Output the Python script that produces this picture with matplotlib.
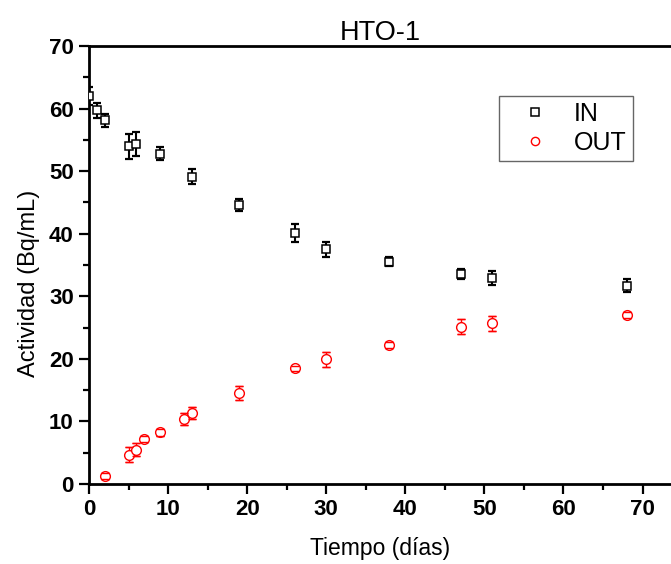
import matplotlib
matplotlib.use("Agg")
import matplotlib.pyplot as plt
from matplotlib.ticker import MultipleLocator

# Data
days_in = [0, 1, 2, 5, 6, 9, 13, 19, 26, 30, 38, 47, 51, 68]
act_in = [62.0, 59.7, 58.1, 54.0, 54.3, 52.8, 49.1, 44.6, 40.1, 37.5, 35.5, 33.5, 32.9, 31.7]
err_in = [1.5, 1.2, 1.0, 2.0, 1.9, 1.0, 1.2, 0.9, 1.4, 1.2, 0.7, 0.8, 1.1, 1.0]

days_out = [2, 5, 6, 7, 9, 12, 13, 19, 26, 30, 38, 47, 51, 68]
act_out = [1.3, 4.7, 5.5, 7.25, 8.25, 10.4, 11.35, 14.5, 18.5, 19.9, 22.2, 25.1, 25.7, 26.95]
err_out = [0.5, 1.2, 1.0, 0.5, 0.5, 1.0, 1.0, 1.1, 0.4, 1.2, 0.5, 1.2, 1.2, 0.5]

plt.rcParams['font.family'] = ['Liberation Sans', 'DejaVu Sans']

fig = plt.figure(figsize=(6.71, 5.64), dpi=100)
ax = fig.add_axes([89/671, 80/564, 1 - 89/671, (484-46)/564])

ax.errorbar(days_in, act_in, yerr=err_in, fmt='s', ms=6, mfc='white', mec='black',
            mew=1.1, ecolor='black', elinewidth=1.5, capsize=3.2, capthick=1.6,
            label='IN', zorder=3)
ax.errorbar(days_in, act_in, yerr=err_in, fmt='none', ecolor='black', elinewidth=0,
            capsize=3.2, capthick=1.6, zorder=4)
ax.errorbar(days_out, act_out, yerr=err_out, fmt='o', ms=7, mfc='white', mec='red',
            mew=1.0, ecolor='red', elinewidth=1.0, capsize=3.2, capthick=1.0,
            label='OUT', zorder=3)
ax.errorbar(days_out, act_out, yerr=err_out, fmt='none', ecolor='red', elinewidth=0,
            capsize=3.2, capthick=1.0, zorder=4)

ax.set_xlim(0, 73.6)
ax.set_ylim(0, 70)
ax.xaxis.set_major_locator(MultipleLocator(10))
ax.xaxis.set_minor_locator(MultipleLocator(5))
ax.yaxis.set_major_locator(MultipleLocator(10))
ax.yaxis.set_minor_locator(MultipleLocator(5))

for s in ['left', 'bottom', 'top']:
    ax.spines[s].set_linewidth(2)
ax.spines['right'].set_visible(False)

ax.tick_params(which='major', direction='out', length=7, width=1.6, labelsize=16, pad=4)
ax.tick_params(which='minor', direction='out', length=4, width=1.6)
for lab in ax.get_xticklabels() + ax.get_yticklabels():
    lab.set_fontweight('bold')

ax.set_xlabel('Tiempo (días)', fontsize=16.5, labelpad=12)
ax.set_ylabel('Actividad (Bq/mL)', fontsize=17, labelpad=8)
ax.yaxis.set_label_coords(-0.085, (484-283)/438)
ax.set_title('HTO-1', fontsize=19.5, pad=4, x=(380-89)/582)

handles, labels = ax.get_legend_handles_labels()
handles = [h[0] for h in handles[:2]]
leg = ax.legend(handles, labels[:2], loc='upper right', bbox_to_anchor=(0.935, 0.886),
                borderaxespad=0, fontsize=18, frameon=True, fancybox=False,
                edgecolor='#404040', handlelength=2.4, handletextpad=0.35,
                borderpad=0.25, labelspacing=0.2, markerscale=0.85)
leg.get_frame().set_linewidth(1.0)

fig.savefig('out.png', dpi=100)
